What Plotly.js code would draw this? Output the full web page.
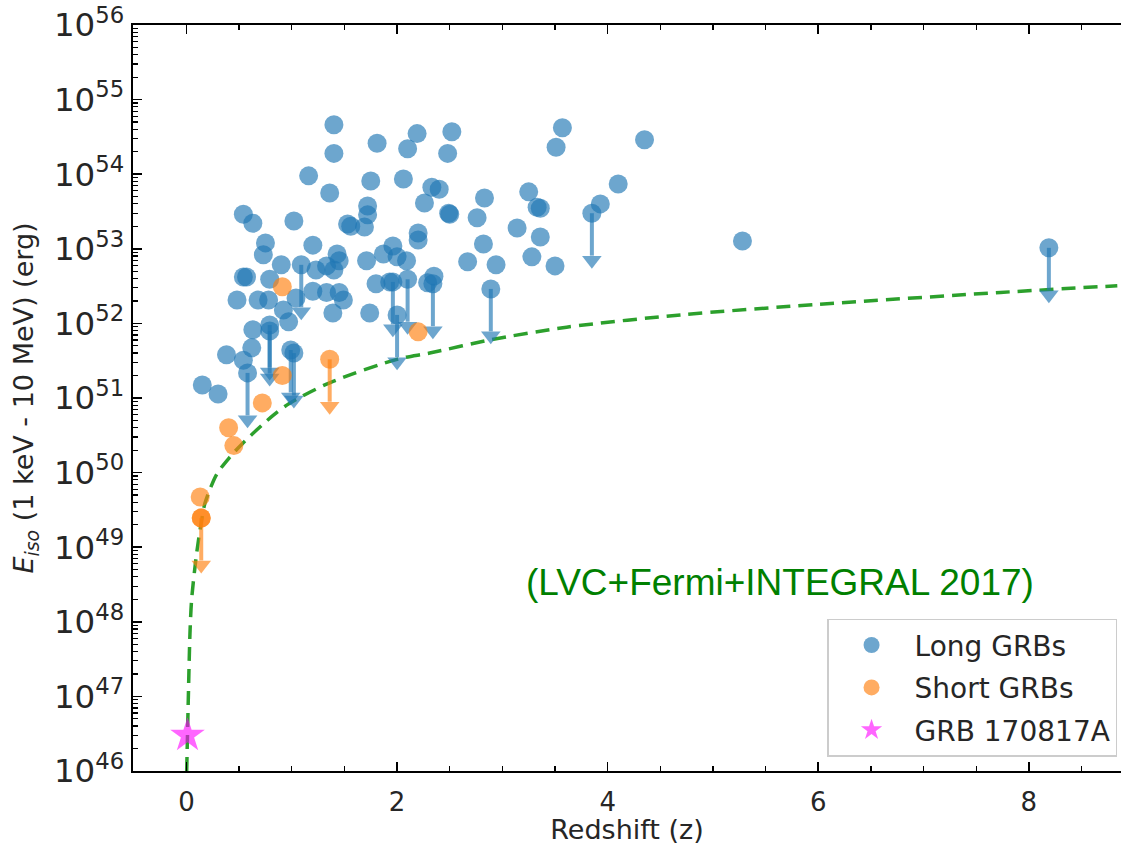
<!DOCTYPE html>
<html><head><meta charset="utf-8">
<script src="https://cdn.plot.ly/plotly-3.0.1.min.js"></script>
<style>html,body{margin:0;padding:0;background:#fff;overflow:hidden}</style>
</head><body><div id="plot" style="width:1122px;height:845px"></div>
<script>
// Long GRBs (measured)
const longZ = [1.40,1.40,1.16,1.36,1.81,2.19,2.10,2.52,2.48,3.57,3.51,4.35,1.75,2.06,2.33,2.40,2.26,2.49,2.50,2.83,
  2.76,3.25,3.33,3.36,3.14,3.36,2.82,2.67,2.94,3.28,3.50,3.93,4.10,2.20,2.20,1.96,2.00,2.09,2.35,5.28,
  1.72,1.72,1.69,1.53,1.56,1.02,1.20,1.43,1.45,1.40,1.71,1.87,0.90,1.23,1.33,1.80,1.93,1.20,1.33,1.45,
  1.49,1.04,1.74,1.39,0.54,0.63,0.75,0.73,0.54,0.57,0.79,2.29,0.48,0.68,0.78,0.92,0.63,0.62,0.38,0.54,
  0.15,0.30,0.97];
const longE = [4.6e54,1.9e54,9.5e53,5.6e53,2.6e54,3.5e54,2.2e54,3.7e54,1.9e54,4.2e54,2.3e54,2.9e54,8.1e53,8.6e53,6.7e53,6.3e53,4.1e53,3.0e53,2.9e53,4.8e53,
  2.6e53,5.8e53,3.6e53,3.5e53,1.9e53,1.44e53,1.16e53,6.7e52,6.1e52,7.8e52,5.9e52,4.0e53,7.4e53,1.63e53,1.31e53,1.09e53,7.8e52,6.9e52,4.3e52,1.27e53,
  3.75e53,2.85e53,1.96e53,2.15e53,2.0e53,2.36e53,1.12e53,8.5e52,6.9e52,5.2e52,6.9e52,8.5e52,6.1e52,5.2e52,5.9e52,3.4e52,3.6e52,2.7e52,2.6e52,2.6e52,
  2.06e52,2.19e52,1.38e52,1.38e52,2.9e53,2.2e53,1.2e53,8.3e52,4.2e52,4.2e52,3.9e52,3.5e52,2.06e52,2.06e52,2.06e52,1.51e52,8.2e51,4.7e51,3.8e51,3.2e51,
  1.49e51,1.13e51,1.05e52];
// Long GRBs (upper limits)
const longLimZ = [3.85,2.10,2.34,2.89,1.09,1.96,2.00,0.79,0.79,0.99,1.02,0.58,8.19];
const longLimE = [3.0e53,3.9e52,3.4e52,2.9e52,6.1e52,3.6e52,1.3e52,9.5e51,7.9e51,4.4e51,4.0e51,2.17e51,1.03e53];
// Short GRBs (measured)
const shortZ = [0.13,0.14,0.40,0.45,0.72,0.91,0.91,2.20];
const shortE = [4.7e49,2.46e49,4.0e50,2.3e50,8.6e50,2.0e51,3.1e52,7.7e51];
// Short GRBs (upper limits)
const shortLimZ = [0.14,1.36];
const shortLimE = [2.46e49,3.3e51];
// GRB 170817A
const grbZ = [0.0098];
const grbE = [3.0e46];
// Detection threshold curve (LVC+Fermi+INTEGRAL 2017)
const curveZ = [0.002,0.017,0.033,0.049,0.097,0.144,0.176,0.287,0.41,0.537,0.82,0.98,1.36,2.0,2.31,2.88,3.61,4.69,6.0,7.73,8.84];
const curveE = [1.0e46,9e46,7e47,2.0e48,8.4e48,2.3e49,3.9e49,9.5e49,1.6e50,2.5e50,5.8e50,8.5e50,1.6e51,3.3e51,4.0e51,6.0e51,8.9e51,1.3e52,1.8e52,2.6e52,3.2e52];

const BLUE = 'rgba(31,119,180,0.65)';
const ORANGE = 'rgba(255,127,14,0.65)';
const MAGENTA = 'rgba(255,0,255,0.6)';
const STEM = 0.27, HEAD = 0.235;

function arrowTraces(zs, es, color){
  const lx=[], ly=[], hx=[], hy=[];
  zs.forEach((z,i)=>{ lx.push(z,z,null); ly.push(es[i], es[i]*STEM, null); hx.push(z); hy.push(es[i]*HEAD); });
  return [
    {x:lx, y:ly, mode:'lines', line:{color:color, width:4}, showlegend:false, hoverinfo:'skip'},
    {x:hx, y:hy, mode:'markers', marker:{symbol:'triangle-down', size:17, color:color, line:{width:0}}, showlegend:false, hoverinfo:'skip'}
  ];
}

const traces = [
  {x:curveZ, y:curveE, mode:'lines', line:{color:'#2ca02c', width:3.5, dash:'14px,8px', shape:'spline', smoothing:0.8}, showlegend:false},
  ...arrowTraces(longLimZ, longLimE, BLUE),
  {x:longZ.concat(longLimZ), y:longE.concat(longLimE), mode:'markers', name:'Long GRBs', legendgroup:'a',
   marker:{symbol:'circle', size:19, color:BLUE, line:{width:0}}},
  ...arrowTraces(shortLimZ, shortLimE, ORANGE),
  {x:shortZ.concat(shortLimZ), y:shortE.concat(shortLimE), mode:'markers', name:'Short GRBs', legendgroup:'b',
   marker:{symbol:'circle', size:19, color:ORANGE, line:{width:0}}},
  {x:grbZ, y:grbE, mode:'markers', name:'GRB 170817A', legendgroup:'c',
   marker:{symbol:'star', size:26, color:MAGENTA, line:{width:0}}}
];

const FONT = 'DejaVu Sans, sans-serif';
const TXT = '#262626';
const layout = {
  width:1122, height:845,
  margin:{l:133, r:1, t:25, b:74},
  paper_bgcolor:'#fff', plot_bgcolor:'#fff',
  font:{family:FONT, size:26, color:TXT},
  showlegend:true,
  xaxis:{
    range:[-0.508, 8.875], showgrid:false, zeroline:false,
    showline:true, linecolor:'#000', linewidth:1.6, mirror:'ticks',
    tickmode:'array', tickvals:[0,2,4,6,8], ticks:'inside', ticklen:9, tickwidth:1.6, tickcolor:'#000',
    minor:{dtick:0.5, tick0:0, ticks:'inside', ticklen:5, tickwidth:1.3, tickcolor:'#000', showgrid:false},
    tickfont:{family:FONT, size:26, color:TXT}, ticklabelstandoff:7,
    title:{text:'Redshift (z)', font:{family:FONT, size:27, color:TXT}, standoff:6}
  },
  yaxis:{
    type:'log', range:[46,56], dtick:1, exponentformat:'power', showgrid:false, zeroline:false,
    showline:true, linecolor:'#000', linewidth:1.6,
    ticks:'inside', ticklen:9, tickwidth:1.6, tickcolor:'#000',
    minor:{dtick:'D1', ticks:'inside', ticklen:4.5, tickwidth:1.2, tickcolor:'#000', showgrid:false},
    tickfont:{family:FONT, size:26, color:TXT}, ticklabelstandoff:2,
    title:{text:'<i>E</i><sub><i>iso</i></sub> (1 keV - 10 MeV) (erg)', font:{family:FONT, size:27, color:TXT}, standoff:12}
  },
  legend:{x:0.996, xanchor:'right', y:0.019, yanchor:'bottom', bgcolor:'#fff', bordercolor:'#cccccc', borderwidth:1.5,
    font:{family:FONT, size:28, color:TXT}, tracegroupgap:3, traceorder:'grouped', itemwidth:76},
  annotations:[{xref:'paper', yref:'paper', x:0.655, y:0.253, xanchor:'center', yanchor:'middle', showarrow:false,
    text:'(LVC+Fermi+INTEGRAL 2017)', font:{family:'Liberation Sans, Arial, sans-serif', size:37, color:'#008000'}}]
};
Plotly.newPlot('plot', traces, layout, {displayModeBar:false, staticPlot:true});
</script>
</body></html>
